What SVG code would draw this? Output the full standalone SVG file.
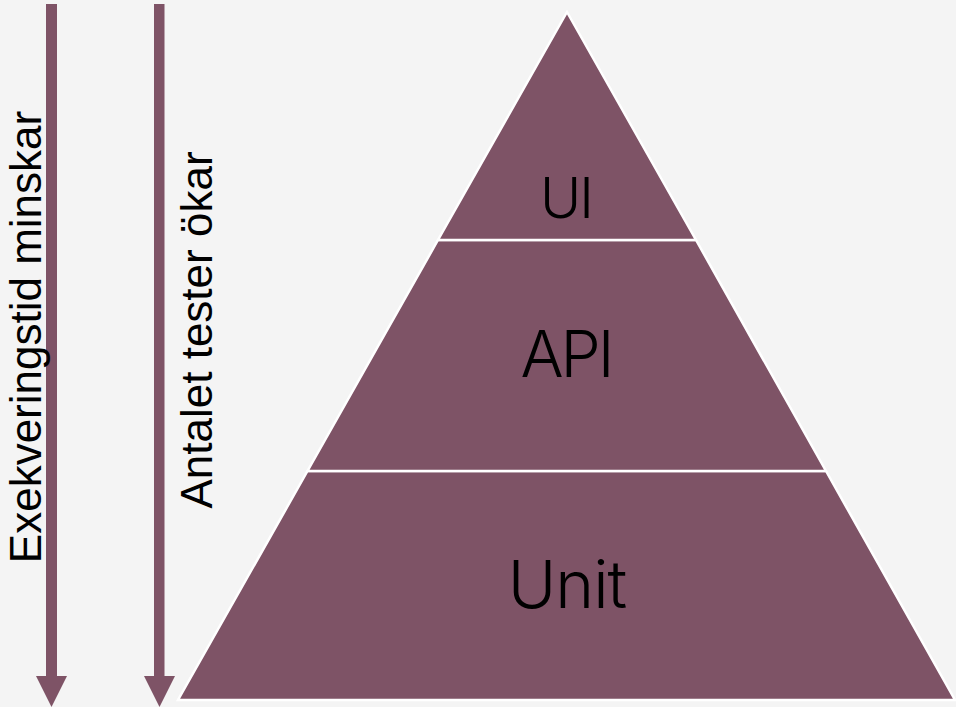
<svg xmlns="http://www.w3.org/2000/svg" width="956" height="707" viewBox="0 0 956 707">
<style>
.tier{fill:#7e5366;stroke:#ffffff;stroke-width:2.5;stroke-linejoin:miter}
.arrow{fill:#7e5366}
.lbl{font-family:Inter,"Noto Sans",sans-serif;font-weight:300;fill:#000;text-anchor:middle}
.side{font-family:"Liberation Sans",Arial,sans-serif;font-size:44px;fill:#000;text-anchor:middle}
</style>
<rect width="956" height="707" fill="#f4f4f4"/>
<g id="connectors">
<path class="arrow" d="M46 4 H57 V676 H67 L51.5 707 L36 676 H46 Z"/>
<path class="arrow" d="M154 4 H164.5 V676 H175 L159.5 707 L144 676 H154 Z"/>
</g>
<g id="label-exekvering">
<text class="side" transform="translate(41 337) rotate(-90)">Exekveringstid minskar</text>
</g>
<g id="label-antalet">
<text class="side" transform="translate(212 330) rotate(-90)">Antalet tester ökar</text>
</g>
<g id="unit">
<path class="tier" d="M307.5 471 H826 L955 700 H178 Z"/>
<text class="lbl" x="567" y="608" font-size="66" letter-spacing="-1">Unit</text>
</g>
<g id="api">
<path class="tier" d="M438 240 H696 L826 471 H307.5 Z"/>
<text class="lbl" x="566" y="377" font-size="64" letter-spacing="-3">API</text>
</g>
<g id="ui">
<path class="tier" d="M567 12 L696 240 H438 Z"/>
<text class="lbl" x="566" y="218" font-size="56" letter-spacing="-2">UI</text>
</g>
</svg>
